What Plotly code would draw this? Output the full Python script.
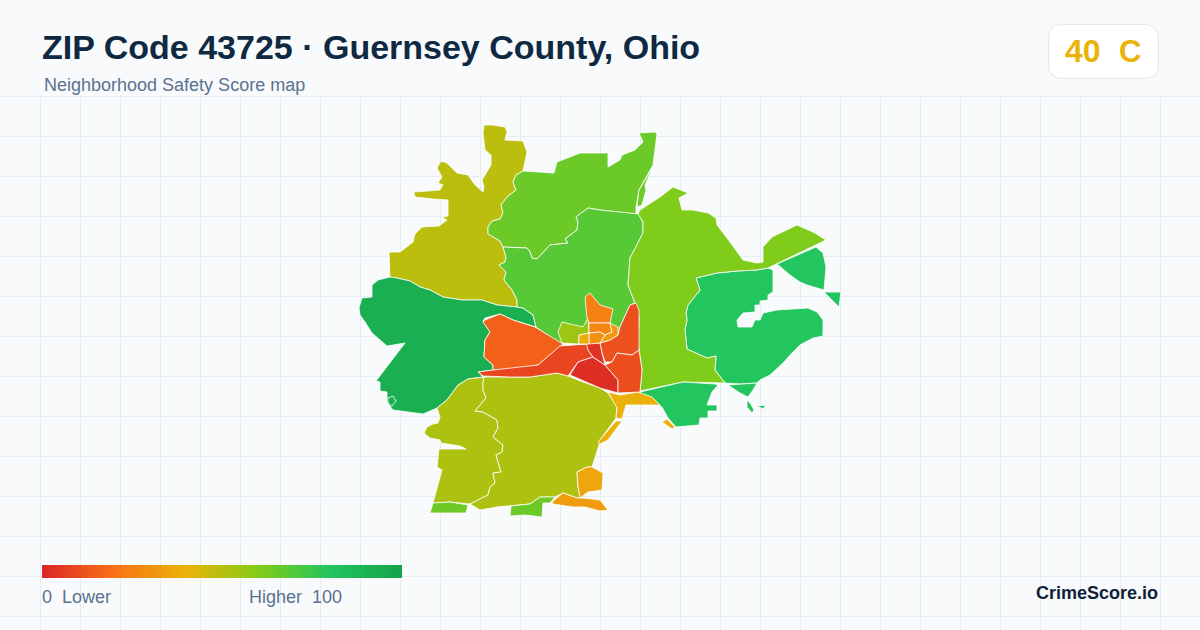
import plotly.graph_objects as go
from plotly.colors import sample_colorscale

# safety score colour ramp
score_colors = ["#dc2626", "#f97316", "#eab308", "#84cc16", "#22c55e", "#16a34a"]
score_stops = [0, 0.2, 0.4, 0.6, 0.8, 1]
colorscale = [[s, c] for s, c in zip(score_stops, score_colors)]

legend_scores = list(range(0, 101))

# tract outlines in map units, drawn in this order
north_west = [(484,125),(493,125),(505,127),(507,132),(505,140),(523,141),(527,152),(525,163),(523,171),(516,175),(513,182),(516,190),(507,197),(501,205),(503,213),(500,219),(492,221),(488,227),(488,234),(500,241),(503,247),(506,257),(505,262),(499,265),(506,272),(504,280),(512,290),(517,300),(517,307),(497,305),(482,300),(462,300),(443,297),(430,290),(420,287),(410,281),(397,278),(390,278),(389,252),(400,252),(413,242),(415,234),(422,227),(439,226),(447,220),(442,217),(448,216),(448,200),(433,199),(415,197),(414,192),(440,190),(443,185),(438,183),(442,177),(437,168),(441,161),(447,163),(457,173),(468,175),(475,185),(483,192),(484,187),(482,180),(487,172),(491,165),(491,155),(485,150),(483,133)]
west = [(372,297),(372,285),(378,280),(390,277),(397,278),(410,281),(420,287),(430,290),(443,297),(462,300),(482,300),(497,305),(517,307),(523,308),(533,315),(536,327),(513,320),(500,314),(485,318),(483,321),(490,332),(485,340),(484,357),(493,365),(493,370),(478,372),(483,377),(468,379),(458,385),(447,400),(437,408),(423,414),(408,412),(393,410),(387,402),(387,392),(380,391),(380,382),(376,381),(405,343),(387,346),(372,333),(365,322),(360,315),(359,308),(362,298)]
west_island = [(388,398),(393,396),(396,401),(392,406),(388,403)]
north = [(503,247),(500,241),(488,234),(488,227),(492,221),(500,219),(503,213),(501,205),(507,197),(516,190),(513,182),(516,175),(523,171),(554,173),(557,162),(570,157),(580,153),(600,153),(608,153),(608,167),(620,160),(622,155),(635,150),(643,142),(639,133),(655,132),(657,134),(653,165),(639,190),(636,207),(636,214),(600,210),(588,208),(576,217),(578,222),(577,230),(565,239),(568,243),(550,245),(537,259),(532,258),(530,252),(527,248)]
north_sliver = [(653,167),(645,185),(646,190),(642,205),(637,207),(639,190)]
center_north = [(503,247),(527,248),(530,252),(532,258),(537,259),(550,245),(568,243),(565,239),(577,230),(578,222),(576,217),(588,208),(600,210),(636,214),(639,214),(643,223),(643,233),(630,258),(628,285),(635,303),(630,305),(620,327),(618,335),(610,340),(600,343),(579,344),(560,343),(550,337),(536,327),(533,315),(523,308),(517,307),(517,300),(512,290),(504,280),(506,272),(499,265),(505,262),(506,257)]
east = [(640,210),(648,205),(660,197),(673,187),(688,193),(679,198),(682,210),(693,210),(708,213),(716,218),(717,225),(727,238),(737,252),(743,260),(757,263),(763,262),(763,247),(772,237),(797,225),(813,232),(826,240),(773,265),(768,268),(757,270),(737,271),(717,273),(696,278),(700,290),(688,305),(686,313),(687,320),(685,330),(687,349),(707,358),(716,356),(715,370),(725,383),(683,382),(640,391),(642,370),(638,343),(639,320),(639,317),(635,303),(628,285),(630,258),(643,233),(643,222),(638,214)]
far_east = [(696,278),(717,273),(737,271),(757,270),(768,268),(773,270),(773,292),(768,295),(768,300),(760,301),(760,305),(755,305),(755,312),(743,313),(737,320),(738,327),(752,327),(755,320),(760,320),(763,313),(777,310),(808,308),(817,312),(823,320),(823,327),(823,336),(813,338),(800,345),(792,353),(783,363),(770,375),(760,380),(757,383),(740,384),(725,383),(715,370),(716,356),(707,358),(687,349),(685,330),(687,320),(686,313),(688,305),(700,290)]
upper_east = [(777,264),(816,247),(823,253),(826,267),(824,290),(807,285),(800,282),(790,275)]
east_tip = [(824,292),(841,292),(839,307)]
east_bit_a = [(728,385),(757,383),(753,390),(748,397),(740,393)]
east_bit_b = [(747,400),(750,403),(754,410),(752,413),(747,407)]
east_bit_c = [(757,406),(766,405),(763,409),(758,407)]
south_east = [(640,392),(683,382),(715,384),(718,385),(712,392),(707,405),(717,405),(717,411),(708,411),(708,418),(700,418),(699,425),(676,427),(668,418),(662,407),(659,405),(655,400),(643,395)]
south_west = [(484,377),(483,383),(483,390),(486,398),(475,411),(483,412),(497,420),(498,428),(493,437),(503,445),(502,452),(496,455),(501,472),(493,473),(495,483),(490,487),(488,495),(470,504),(450,502),(433,503),(442,470),(437,467),(439,449),(466,449),(460,446),(441,443),(440,440),(430,438),(424,433),(427,427),(433,424),(438,423),(440,417),(437,408),(447,400),(458,385),(468,379)]
south = [(484,377),(510,377),(530,377),(557,373),(568,376),(583,382),(600,388),(608,393),(617,406),(616,418),(600,440),(599,445),(595,457),(592,467),(587,467),(577,472),(578,487),(580,498),(577,498),(563,493),(555,497),(540,497),(530,504),(510,506),(497,507),(480,510),(470,504),(488,495),(490,487),(495,483),(493,473),(501,472),(496,455),(502,452),(503,445),(493,437),(498,428),(497,420),(483,412),(475,411),(486,398),(483,390),(483,383)]
patch_sw = [(433,503),(450,502),(468,505),(466,513),(430,513)]
patch_s = [(511,506),(530,504),(540,497),(555,497),(550,503),(543,503),(542,517),(525,515),(510,516)]
south_gold = [(577,472),(587,467),(592,467),(603,473),(602,490),(588,492),(580,498),(578,487)]
south_amber = [(552,502),(563,493),(577,498),(583,498),(600,500),(608,510),(600,511),(585,507),(573,507),(553,504)]
strip_gold = [(608,392),(620,395),(638,392),(652,397),(660,405),(626,405),(622,419),(616,418),(617,408)]
strip_gold_low = [(616,421),(622,421),(608,440),(600,444),(598,442)]
bit_gold = [(662,422),(667,419),(675,427),(672,429)]
west_orange = [(485,320),(500,314),(513,320),(535,327),(563,344),(538,365),(513,369),(493,370),(493,365),(484,357),(485,340),(490,332),(483,322)]
strip_red = [(478,372),(493,370),(538,365),(560,346),(588,344),(588,350),(593,357),(578,362),(568,376),(557,373),(530,377),(510,377),(483,376)]
center_red = [(578,362),(593,357),(605,365),(618,380),(618,393),(600,388),(570,375)]
top_red = [(586,342),(600,343),(602,353),(605,365),(593,357),(588,350)]
right_upper = [(630,305),(636,303),(639,310),(639,350),(632,355),(617,353),(612,362),(605,362),(602,353),(600,343),(610,340),(618,335),(620,327)]
right_lower = [(617,353),(632,355),(639,350),(642,370),(640,392),(618,393),(618,380),(605,365),(612,362)]
town_orange = [(585,297),(590,293),(600,305),(613,309),(610,323),(589,323),(587,318)]
town_block_a = [(589,323),(610,323),(612,332),(605,335),(600,332),(589,333)]
town_block_b = [(610,323),(618,327),(618,335),(610,340),(600,343),(605,335),(612,332)]
town_block_c = [(589,333),(600,332),(605,335),(600,343),(589,344)]
town_yellow = [(579,335),(589,333),(589,344),(579,344)]
town_lime = [(562,322),(583,327),(588,318),(589,333),(579,335),(579,344),(562,343),(558,332)]

outlines = [north_west, west, west_island, north, north_sliver, center_north, far_east, east, upper_east, east_tip,
            east_bit_a, east_bit_b, east_bit_c, south_east, south_west, south, patch_sw, patch_s,
            south_gold, south_amber, strip_gold, strip_gold_low, bit_gold, west_orange, strip_red,
            center_red, right_upper, right_lower, top_red, town_lime, town_orange, town_block_a,
            town_block_b, town_block_c, town_yellow]
scores = [49, 93, 93, 65, 65, 69, 80, 61, 80, 80,
          80, 80, 80, 80, 52, 52, 65, 65,
          36, 33, 39, 39, 39, 15, 8,
          2, 11, 10, 3, 55, 24, 26,
          32, 29, 38]

bg = "#f8fafc"
w, h = 1200, 630
grid_top = 95


def px(x):
    return x / w


def py(y):
    return 1 - y / h


fig = go.Figure()

for outline, score in zip(outlines, scores):
    color = sample_colorscale(colorscale, [score / 100], colortype="rgb")[0]
    fig.add_trace(go.Scatter(
        x=[p[0] for p in outline] + [outline[0][0]],
        y=[p[1] for p in outline] + [outline[0][1]],
        mode="lines", fill="toself", fillcolor=color,
        line=dict(color="#ffffff", width=0.8), hoverinfo="skip", showlegend=False,
    ))

# score legend bar
fig.add_trace(go.Heatmap(
    z=[legend_scores], x0=43.8, dx=3.564, y0=571.5, dy=13,
    colorscale=colorscale, zmin=0, zmax=100, showscale=False, hoverinfo="skip",
))


def label(x, y, text, size, color, anchor="left", bold=False):
    fig.add_annotation(
        x=px(x), y=py(y), xref="paper", yref="paper", text=f"<b>{text}</b>" if bold else text,
        showarrow=False, xanchor=anchor, yanchor="middle", borderpad=0, borderwidth=0,
        font=dict(family="Liberation Sans", size=size, color=color),
    )


label(42, 47, "ZIP Code 43725 · Guernsey County, Ohio", 34, "#0f2942", bold=True)
label(44, 85, "Neighborhood Safety Score map", 18, "#5a7290")
label(1065, 51, "40", 32, "#eab308", bold=True)
label(1119, 51, "C", 31, "#eab308", bold=True)
label(42, 597, "0\u00a0\u00a0Lower", 18, "#5a7290")
label(249, 597, "Higher\u00a0\u00a0100", 18, "#5a7290")
label(1158, 593, "CrimeScore.io", 18, "#0f1f38", anchor="right", bold=True)

# score badge, rounded corners
x0, x1, y0, y1, r = px(1048.5), px(1158.5), py(24.5), py(78.5), 14
rx, ry = r / w, r / h
badge = (f"M {x0 + rx} {y0} L {x1 - rx} {y0} Q {x1} {y0} {x1} {y0 - ry} "
         f"L {x1} {y1 + ry} Q {x1} {y1} {x1 - rx} {y1} L {x0 + rx} {y1} "
         f"Q {x0} {y1} {x0} {y1 + ry} L {x0} {y0 - ry} Q {x0} {y0} {x0 + rx} {y0} Z")
fig.add_shape(type="path", path=badge, xref="paper", yref="paper",
              fillcolor="#ffffff", line=dict(color="#e2e8f0", width=1))

fig.update_layout(
    width=w, height=h, margin=dict(l=0, r=0, t=0, b=0),
    paper_bgcolor=bg, plot_bgcolor=bg, showlegend=False,
    font=dict(family="Liberation Sans"),
)
fig.update_xaxes(range=[0, w], tick0=0.5, dtick=40, showgrid=True, gridcolor="#e6edf2", gridwidth=1,
                 zeroline=False, showline=False, showticklabels=False, ticks="")
fig.update_yaxes(range=[h, grid_top], domain=[0, 1 - grid_top / h], tick0=96.5, dtick=40,
                 showgrid=True, gridcolor="#e6edf2", gridwidth=1,
                 zeroline=False, showline=False, showticklabels=False, ticks="")

fig.write_html("out.html", config={"displayModeBar": False},
               post_script="document.body.style.margin='0'")
